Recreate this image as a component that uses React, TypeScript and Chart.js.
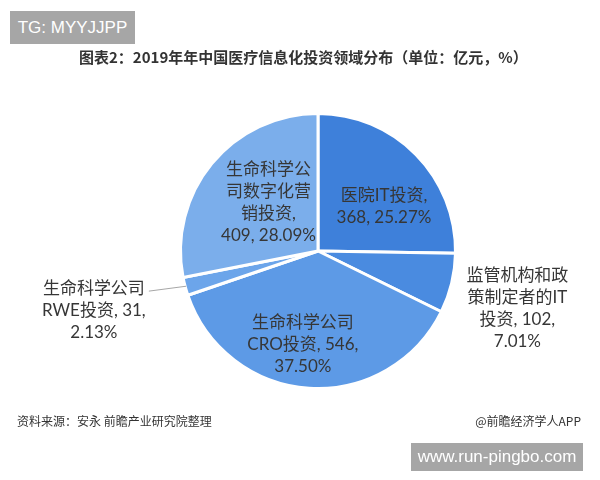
import React, { useEffect, useRef } from "react";
import { Chart, registerables } from "chart.js";

Chart.register(...registerables);

const categories = [
  "医院IT投资",
  "监管机构和政策制定者的IT投资",
  "生命科学公司CRO投资",
  "生命科学公司RWE投资",
  "生命科学公司数字化营销投资",
];
const values = [368, 102, 546, 31, 409];
const colors = ["#3E80DA", "#4A8BE0", "#5D9AE6", "#6CA5EA", "#7BAEEB"];

const titleText = "图表2：2019年年中国医疗信息化投资领域分布（单位：亿元，%）";
const sourceText = "资料来源：安永 前瞻产业研究院整理";
const creditText = "@前瞻经济学人APP";
const tagText = "TG: MYYJJPP";
const siteText = "www.run-pingbo.com";

// label placement (fractions of radius from centre), wrap width, slack for last token, leader line
const labelLayout = [
  { dx: 0.48, dy: -0.32, maxW: 96, slack: 0, leader: false },
  { dx: 1.45, dy: 0.42, maxW: 106, slack: 0, leader: false },
  { dx: -0.11, dy: 0.68, maxW: 118, slack: 0, leader: false },
  { dx: -1.63, dy: 0.43, maxW: 118, slack: 0, leader: true },
  { dx: -0.36, dy: -0.35, maxW: 90, slack: 14, leader: false },
];

const LABEL_FONT = "17px Lato, 'Noto Sans CJK SC', sans-serif";
const LINE_H = 22;

function tokenize(s: string): string[] {
  return s.match(/[\u4e00-\u9fff\u3000-\u303f\uff00-\uffef]|[^\u4e00-\u9fff\u3000-\u303f\uff00-\uffef\s]+\s*/g) || [];
}

function wrap(ctx: CanvasRenderingContext2D, s: string, maxW: number, slack: number): string[] {
  const toks = tokenize(s);
  const lines: string[] = [];
  let cur = "";
  toks.forEach((t, idx) => {
    const cand = cur + t;
    const limit = maxW + (idx === toks.length - 1 ? slack : 0);
    if (cur && ctx.measureText(cand).width > limit) {
      lines.push(cur.trimEnd());
      cur = t;
    } else {
      cur = cand;
    }
  });
  if (cur) lines.push(cur.trimEnd());
  return lines;
}

const labelPlugin = {
  id: "sliceLabels",
  afterDatasetsDraw(chart: any) {
    const ctx: CanvasRenderingContext2D = chart.ctx;
    const meta = chart.getDatasetMeta(0);
    const total = values.reduce((a, b) => a + b, 0);
    ctx.save();
    ctx.font = LABEL_FONT;
    ctx.fillStyle = "#363636";
    ctx.textAlign = "center";
    ctx.textBaseline = "middle";
    meta.data.forEach((arc: any, i: number) => {
      const lay = labelLayout[i];
      const r = arc.outerRadius;
      const cx = arc.x + lay.dx * r;
      const cy = arc.y + lay.dy * r;
      const pct = ((values[i] / total) * 100).toFixed(2) + "%";
      const text = `${categories[i]}, ${values[i]}, ${pct}`;
      const lines = wrap(ctx, text, lay.maxW, lay.slack);
      const y0 = cy - ((lines.length - 1) * LINE_H) / 2;
      lines.forEach((ln, k) => ctx.fillText(ln, cx, y0 + k * LINE_H));
      if (lay.leader) {
        const mid = (arc.startAngle + arc.endAngle) / 2;
        const ex = arc.x + Math.cos(mid) * (r - 1);
        const ey = arc.y + Math.sin(mid) * (r - 1);
        const w0 = ctx.measureText(lines[0]).width;
        ctx.beginPath();
        ctx.strokeStyle = "#a6a6a6";
        ctx.lineWidth = 1;
        ctx.moveTo(cx + w0 / 2 + 4, y0 + 3);
        ctx.lineTo(ex, ey);
        ctx.stroke();
      }
    });
    ctx.restore();
  },
};

export default function App() {
  const ref = useRef<HTMLCanvasElement>(null);
  useEffect(() => {
    if (!ref.current) return;
    const chart = new Chart(ref.current, {
      type: "pie",
      data: {
        labels: categories,
        datasets: [
          {
            data: values,
            backgroundColor: colors,
            borderColor: "#ffffff",
            borderWidth: 3,
          },
        ],
      },
      options: {
        responsive: false,
        animation: false,
        layout: { padding: { left: 179, right: 143, top: 112, bottom: 90 } },
        plugins: {
          legend: { display: false },
          tooltip: { enabled: false },
          title: { display: false },
        },
      },
      plugins: [labelPlugin],
    });
    return () => chart.destroy();
  }, []);

  return (
    <div
      style={{
        position: "fixed",
        left: 0,
        top: 0,
        width: 600,
        height: 480,
        background: "#ffffff",
        overflow: "hidden",
      }}
    >
      <canvas ref={ref} width={600} height={480} style={{ position: "absolute", left: 0, top: 0 }} />
      <div
        style={{
          position: "absolute",
          left: 10,
          top: 11,
          width: 125,
          height: 33,
          background: "#a6a6a6",
          color: "#ffffff",
          font: "17px 'Liberation Sans', Arial, sans-serif",
          lineHeight: "33px",
          textAlign: "center",
        }}
      >
        {tagText}
      </div>
      <div
        style={{
          position: "absolute",
          left: 79,
          top: 46,
          font: "bold 15px 'Noto Sans CJK SC', sans-serif",
          lineHeight: "22px",
          color: "#333333",
          whiteSpace: "nowrap",
        }}
      >
        {titleText}
      </div>
      <div
        style={{
          position: "absolute",
          left: 17,
          top: 412,
          font: "12px 'Noto Sans CJK SC', sans-serif",
          lineHeight: "18px",
          color: "#333333",
          whiteSpace: "nowrap",
        }}
      >
        {sourceText}
      </div>
      <div
        style={{
          position: "absolute",
          right: 19,
          top: 412,
          font: "12px 'Noto Sans CJK SC', sans-serif",
          lineHeight: "18px",
          color: "#333333",
          whiteSpace: "nowrap",
        }}
      >
        {creditText}
      </div>
      <div
        style={{
          position: "absolute",
          left: 411,
          top: 443,
          width: 172,
          height: 28,
          background: "#a6a6a6",
          color: "#ffffff",
          font: "17px 'Liberation Sans', Arial, sans-serif",
          lineHeight: "28px",
          textAlign: "center",
          whiteSpace: "nowrap",
        }}
      >
        {siteText}
      </div>
    </div>
  );
}
